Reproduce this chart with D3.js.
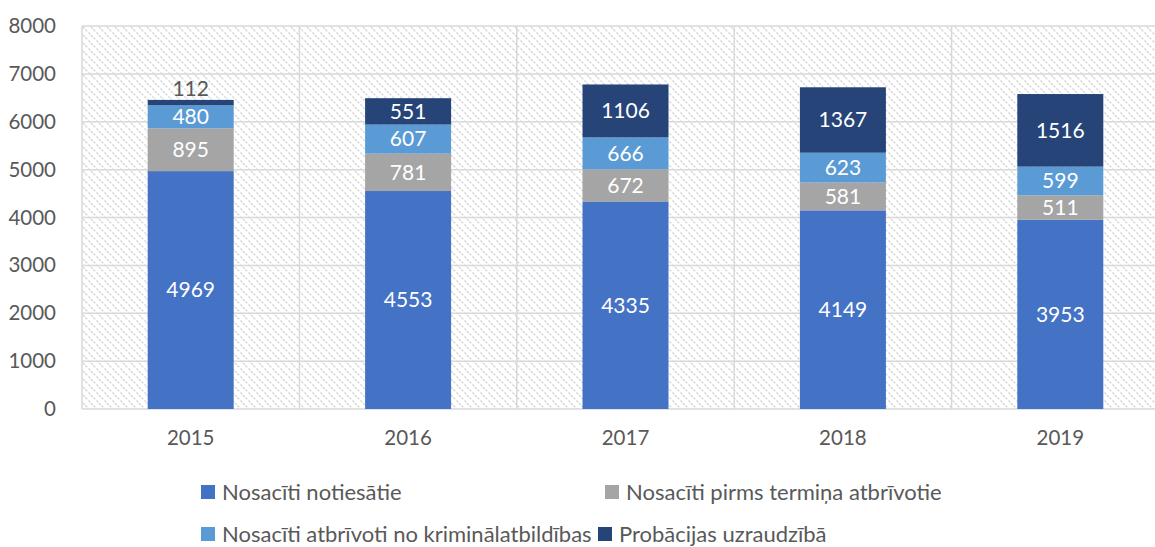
<!DOCTYPE html>
<html>
<head>
<meta charset="utf-8">
<script src="https://cdn.jsdelivr.net/npm/d3@7"></script>
<style>
  body { margin: 0; background: #fff; }
  svg { font-family: Lato, "Open Sans", sans-serif; }
</style>
</head>
<body>
<div class="container"></div>
<script>
// data
const years = ['2015', '2016', '2017', '2018', '2019'];
const seriesNames = ['Nosacīti notiesātie', 'Nosacīti pirms termiņa atbrīvotie', 'Nosacīti atbrīvoti no kriminālatbildības', 'Probācijas uzraudzībā'];
const notiesatie = [4969, 4553, 4335, 4149, 3953];
const pirmsTermina = [895, 781, 672, 581, 511];
const atbrivoti = [480, 607, 666, 623, 599];
const probacija = [112, 551, 1106, 1367, 1516];
const yTicks = [0, 1000, 2000, 3000, 4000, 5000, 6000, 7000, 8000];

const colors = ['#4472C4', '#A5A5A5', '#5B9BD5', '#264478'];

const width = 1155;
const height = 547;
const margin = {left: 82, top: 26, bottom: 138};
const plotRight = 1169; // chart is cut at the right edge

const rows = years.map((y, i) => ({
  year: y,
  s0: notiesatie[i], s1: pirmsTermina[i], s2: atbrivoti[i], s3: probacija[i]
}));
const keys = ['s0', 's1', 's2', 's3'];
const stacked = d3.stack().keys(keys)(rows);

const svg = d3.select('.container')
  .append('svg')
  .attr('width', width)
  .attr('height', height);

// hatch pattern for plot background
const pattern = svg.append('defs').append('pattern')
  .attr('id', 'hatch')
  .attr('patternUnits', 'userSpaceOnUse')
  .attr('width', 8)
  .attr('height', 8);
pattern.append('path')
  .attr('d', 'M-2,-2 L10,10 M-2,6 L2,10 M6,-2 L10,2')
  .attr('stroke', '#d8d8d8')
  .attr('stroke-width', 1.5)
  .attr('stroke-dasharray', '2.5,1');

const x = d3.scaleBand()
  .domain(years)
  .range([margin.left, plotRight])
  .paddingInner(0)
  .paddingOuter(0);

const y = d3.scaleLinear()
  .domain([0, 8000])
  .range([height - margin.bottom, margin.top]);

svg.append('rect')
  .attr('x', margin.left)
  .attr('y', y(8000))
  .attr('width', plotRight - margin.left)
  .attr('height', y(0) - y(8000))
  .attr('fill', 'url(#hatch)');

// gridlines
svg.append('g')
  .selectAll('line')
  .data(yTicks)
  .enter()
  .append('line')
  .attr('x1', margin.left)
  .attr('x2', plotRight)
  .attr('y1', d => y(d))
  .attr('y2', d => y(d))
  .attr('stroke', '#d9d9d9')
  .attr('stroke-width', 1.5);

svg.append('g')
  .selectAll('line')
  .data(years.concat(['end']))
  .enter()
  .append('line')
  .attr('x1', (d, i) => margin.left + i * x.bandwidth())
  .attr('x2', (d, i) => margin.left + i * x.bandwidth())
  .attr('y1', y(0))
  .attr('y2', y(8000))
  .attr('stroke', '#d9d9d9')
  .attr('stroke-width', 1.5);

// y axis labels
const yAxis = svg.append('g')
  .attr('transform', `translate(${margin.left - 23},0)`)
  .call(d3.axisLeft(y).tickValues(yTicks).tickSize(0).tickFormat(d3.format('d')));
yAxis.select('.domain').remove();
yAxis.selectAll('text')
  .attr('font-size', '20.5px')
  .attr('font-family', 'Lato, sans-serif')
  .attr('fill', '#595959');

// x axis labels
const xAxis = svg.append('g')
  .attr('transform', `translate(0,${y(0) + 18})`)
  .call(d3.axisBottom(x).tickSize(0));
xAxis.select('.domain').remove();
xAxis.selectAll('text')
  .attr('font-size', '20.5px')
  .attr('font-family', 'Lato, sans-serif')
  .attr('fill', '#595959');

// bars
const barWidth = 86;
const layer = svg.selectAll('g.layer')
  .data(stacked)
  .enter()
  .append('g')
  .attr('class', 'layer')
  .attr('fill', (d, i) => colors[i]);

layer.selectAll('rect')
  .data(d => d)
  .enter()
  .append('rect')
  .attr('x', d => x(d.data.year) + x.bandwidth() / 2 - barWidth / 2)
  .attr('y', d => y(d[1]))
  .attr('width', barWidth)
  .attr('height', d => y(d[0]) - y(d[1]));

// value labels
stacked.forEach((s, si) => {
  svg.append('g')
    .selectAll('text')
    .data(s)
    .enter()
    .append('text')
    .attr('x', d => x(d.data.year) + x.bandwidth() / 2)
    .attr('y', d => {
      const h = y(d[0]) - y(d[1]);
      if (h < 20) return y(d[1]) - 11;
      return (y(d[0]) + y(d[1])) / 2;
    })
    .attr('dy', '0.35em')
    .attr('text-anchor', 'middle')
    .attr('font-size', '21px')
    .attr('fill', d => (y(d[0]) - y(d[1]) < 20) ? '#595959' : '#fff')
    .text(d => d[1] - d[0]);
});

// legend
const legendPos = [[201, 492], [605, 492], [201, 534], [598, 534]];
const legend = svg.append('g')
  .selectAll('g')
  .data(seriesNames)
  .enter()
  .append('g')
  .attr('transform', (d, i) => `translate(${legendPos[i][0]},${legendPos[i][1]})`);

legend.append('rect')
  .attr('x', 0)
  .attr('y', -7)
  .attr('width', 14)
  .attr('height', 14)
  .attr('fill', (d, i) => colors[i]);

legend.append('text')
  .attr('x', 21)
  .attr('dy', '0.35em')
  .attr('font-size', '22px')
  .attr('fill', '#595959')
  .text(d => d);
</script>
</body>
</html>
